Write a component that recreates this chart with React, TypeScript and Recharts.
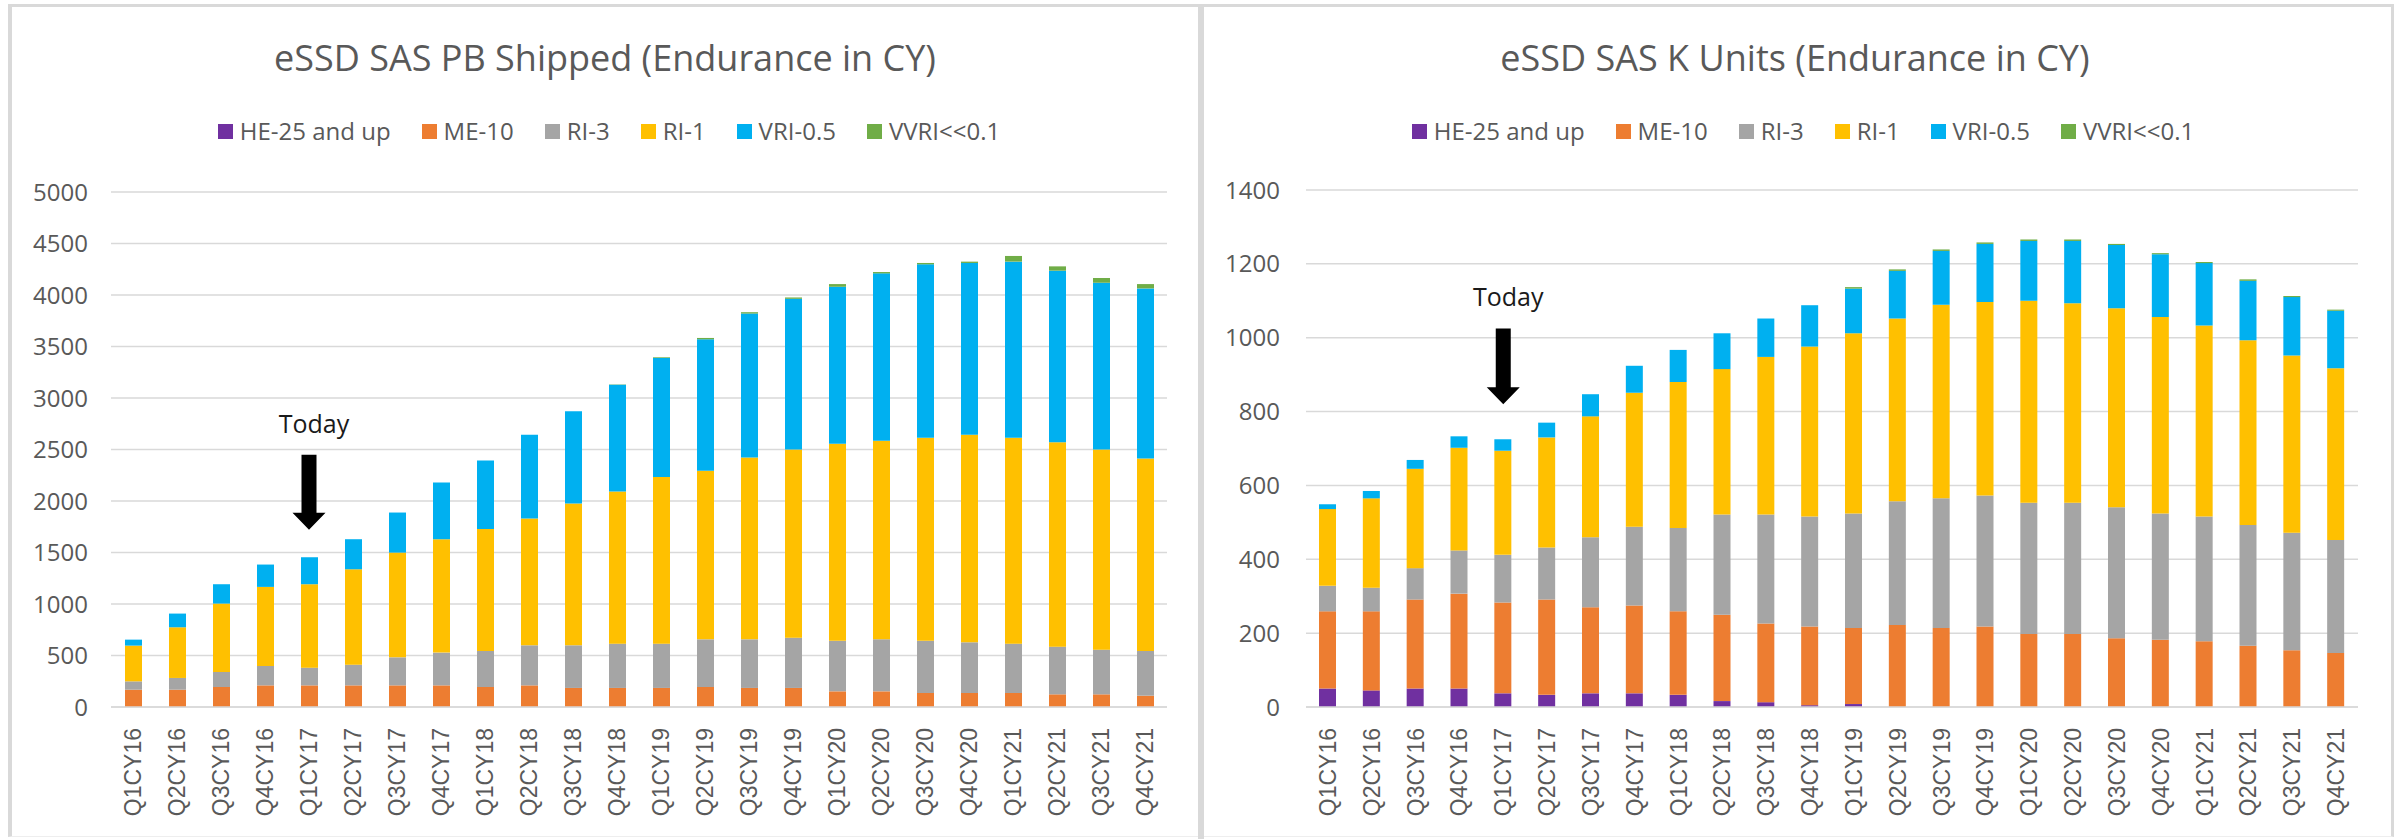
import React from 'react';
import { BarChart, Bar, XAxis, YAxis, CartesianGrid, ReferenceLine } from 'recharts';

const quarters = [
  'Q1CY16', 'Q2CY16', 'Q3CY16', 'Q4CY16', 'Q1CY17', 'Q2CY17', 'Q3CY17', 'Q4CY17',
  'Q1CY18', 'Q2CY18', 'Q3CY18', 'Q4CY18', 'Q1CY19', 'Q2CY19', 'Q3CY19', 'Q4CY19',
  'Q1CY20', 'Q2CY20', 'Q3CY20', 'Q4CY20', 'Q1CY21', 'Q2CY21', 'Q3CY21', 'Q4CY21',
];

// PB shipped, per endurance class
const pbHe25 = [0, 0, 0, 0, 0, 0, 0, 0, 0, 0, 0, 0, 0, 0, 0, 0, 0, 0, 0, 0, 0, 0, 0, 0];
const pbMe10 = [168, 168, 194, 210, 210, 210, 210, 210, 194, 210, 185, 185, 185, 194, 185, 185, 152, 152, 136, 136, 136, 123, 123, 110];
const pbRi3 = [81, 114, 146, 188, 172, 201, 272, 318, 350, 389, 414, 430, 430, 463, 472, 488, 492, 505, 508, 492, 479, 463, 434, 434];
const pbRi1 = [347, 492, 664, 768, 810, 926, 1017, 1101, 1185, 1230, 1376, 1477, 1619, 1636, 1765, 1827, 1911, 1927, 1969, 2014, 1998, 1985, 1943, 1868];
const pbVri = [58, 133, 188, 217, 262, 292, 389, 550, 664, 813, 896, 1036, 1154, 1277, 1398, 1463, 1525, 1626, 1685, 1669, 1711, 1665, 1619, 1652];
const pbVvri = [0, 0, 0, 0, 0, 0, 0, 0, 0, 0, 0, 3, 7, 13, 13, 13, 26, 13, 13, 13, 55, 42, 46, 42];

// K units, per endurance class
const kuHe25 = [50, 45, 50, 50, 37, 33, 37, 37, 33, 16, 13, 5, 8, 0, 0, 0, 0, 0, 0, 0, 0, 0, 0, 0];
const kuMe10 = [209, 214, 241, 257, 246, 258, 233, 238, 226, 234, 213, 213, 206, 222, 214, 218, 198, 198, 186, 182, 178, 166, 154, 146];
const kuRi3 = [69, 64, 85, 117, 129, 141, 190, 213, 226, 271, 295, 298, 310, 335, 351, 355, 355, 355, 355, 342, 338, 327, 318, 306];
const kuRi1 = [208, 242, 269, 278, 282, 298, 327, 363, 395, 394, 427, 460, 488, 495, 524, 524, 547, 540, 539, 532, 517, 500, 480, 465];
const kuVri = [13, 20, 24, 31, 31, 40, 60, 73, 87, 97, 104, 112, 121, 129, 146, 157, 162, 169, 171, 170, 169, 161, 158, 156];
const kuVvri = [0, 0, 0, 0, 0, 0, 0, 0, 0, 0, 0, 0, 4, 4, 4, 4, 4, 4, 3, 3, 3, 4, 3, 3];

const pbTicks = [0, 500, 1000, 1500, 2000, 2500, 3000, 3500, 4000, 4500, 5000];
const kuTicks = [0, 200, 400, 600, 800, 1000, 1200, 1400];

const todayQuarter = 'Q1CY17';
const pbArrow = [2450, 1720];
const kuArrow = [1025, 820];

const series = [
  { key: 'he25', name: 'HE-25 and up', color: '#7030A0' },
  { key: 'me10', name: 'ME-10', color: '#ED7D31' },
  { key: 'ri3', name: 'RI-3', color: '#A5A5A5' },
  { key: 'ri1', name: 'RI-1', color: '#FFC000' },
  { key: 'vri', name: 'VRI-0.5', color: '#00B0F0' },
  { key: 'vvri', name: 'VVRI<<0.1', color: '#70AD47' },
];

const pbRows = quarters.map((q, i) => ({
  q, he25: pbHe25[i], me10: pbMe10[i], ri3: pbRi3[i], ri1: pbRi1[i], vri: pbVri[i], vvri: pbVvri[i],
}));
const kuRows = quarters.map((q, i) => ({
  q, he25: kuHe25[i], me10: kuMe10[i], ri3: kuRi3[i], ri1: kuRi1[i], vri: kuVri[i], vvri: kuVvri[i],
}));

const TEXT_FONT = '"Open Sans", "DejaVu Sans", sans-serif';
const AXIS_FONT = '"Liberation Sans", Arial, sans-serif';
const GREY_TEXT = '#595959';
const GRID = '#d9d9d9';

function QuarterTick({ x, y, payload }: any) {
  const ty = y + 21;
  return (
    <text
      x={x}
      y={ty}
      transform={`rotate(-90 ${x} ${ty})`}
      textAnchor="end"
      dominantBaseline="central"
      fontFamily={AXIS_FONT}
      fontSize={23}
      fill={GREY_TEXT}
    >
      {payload.value}
    </text>
  );
}

function TodayArrow(props: any) {
  const { x1, y1, y2 } = props;
  const cx = x1;
  const shaft = 7.5;
  const head = 16.5;
  const headLen = 17;
  const d = [
    `M${cx - shaft},${y1}`,
    `L${cx + shaft},${y1}`,
    `L${cx + shaft},${y2 - headLen}`,
    `L${cx + head},${y2 - headLen}`,
    `L${cx},${y2}`,
    `L${cx - head},${y2 - headLen}`,
    `L${cx - shaft},${y2 - headLen}`,
    'Z',
  ].join(' ');
  return (
    <g>
      <path d={d} fill="#000" />
      <text x={cx + 5} y={y1 - 22} textAnchor="middle" fontFamily={TEXT_FONT} fontSize={25} fill="#1a1a1a">
        Today
      </text>
    </g>
  );
}

function LegendRow({ left, width }: { left: number; width: number }) {
  return (
    <div
      style={{
        position: 'absolute', left, top: 116, width, height: 30,
        display: 'flex', justifyContent: 'center', alignItems: 'center',
        fontFamily: TEXT_FONT, fontSize: 24, color: GREY_TEXT, lineHeight: '30px',
      }}
    >
      {series.map((s, i) => (
        <div key={s.key} style={{ display: 'flex', alignItems: 'center', marginRight: i < series.length - 1 ? 31 : 0 }}>
          <span style={{ width: 15, height: 15, background: s.color, marginRight: 7, display: 'inline-block' }} />
          <span>{s.name}</span>
        </div>
      ))}
    </div>
  );
}

function Title({ left, width, text }: { left: number; width: number; text: string }) {
  return (
    <div
      style={{
        position: 'absolute', left, top: 40, width, textAlign: 'center',
        fontFamily: TEXT_FONT, fontSize: 36, lineHeight: '36px', color: GREY_TEXT,
      }}
    >
      {text}
    </div>
  );
}

function StackChart({ rows, ticks, max, axisWidth, tickGap, width, plotWidth, top, arrow }: any) {
  return (
    <BarChart
      width={width}
      height={839}
      data={rows}
      margin={{ top, right: width - axisWidth - plotWidth, bottom: 0, left: 0 }}
      barSize={17}
    >
      <CartesianGrid vertical={false} stroke={GRID} strokeWidth={1.5} />
      <XAxis
        dataKey="q"
        interval={0}
        height={132}
        tick={<QuarterTick />}
        tickLine={false}
        tickSize={0}
        tickMargin={0}
        axisLine={{ stroke: GRID, strokeWidth: 1.5 }}
      />
      <YAxis
        width={axisWidth}
        domain={[0, max]}
        ticks={ticks}
        interval={0}
        tickLine={false}
        axisLine={false}
        tickSize={0}
        tickMargin={tickGap}
        tick={{ fill: GREY_TEXT, fontSize: 24, fontFamily: TEXT_FONT }}
      />
      {series.map((s) => (
        <Bar key={s.key} dataKey={s.key} name={s.name} stackId="a" fill={s.color} isAnimationActive={false} />
      ))}
      <ReferenceLine
        segment={[{ x: todayQuarter, y: arrow[0] }, { x: todayQuarter, y: arrow[1] }]}
        shape={TodayArrow}
      />
    </BarChart>
  );
}

export default function App() {
  return (
    <div style={{ position: 'fixed', left: 0, top: 0, width: 2399, height: 839, background: '#fff', overflow: 'hidden' }}>
      {/* panel frames */}
      <div style={{ position: 'absolute', left: 8, top: 4, width: 1190, height: 833, boxSizing: 'border-box', borderLeft: `4px solid ${GRID}`, borderTop: `3px solid ${GRID}`, borderBottom: '1px solid #eeeeee' }} />
      <div style={{ position: 'absolute', left: 1198, top: 4, width: 6, height: 835, background: GRID }} />
      <div style={{ position: 'absolute', left: 1204, top: 4, width: 1190, height: 833, boxSizing: 'border-box', borderRight: `3px solid ${GRID}`, borderTop: `3px solid ${GRID}`, borderBottom: '1px solid #eeeeee' }} />

      <Title left={8} width={1194} text="eSSD SAS PB Shipped (Endurance in CY)" />
      <LegendRow left={14} width={1190} />
      <Title left={1200} width={1190} text="eSSD SAS K Units (Endurance in CY)" />
      <LegendRow left={1208} width={1190} />

      <div style={{ position: 'absolute', left: 0, top: 0 }}>
        <StackChart rows={pbRows} ticks={pbTicks} max={5000} axisWidth={111} tickGap={23} width={1198} plotWidth={1056} top={192} arrow={pbArrow} />
      </div>
      <div style={{ position: 'absolute', left: 1204, top: 0 }}>
        <StackChart rows={kuRows} ticks={kuTicks} max={1400} axisWidth={102} tickGap={26} width={1187} plotWidth={1052} top={190} arrow={kuArrow} />
      </div>
    </div>
  );
}
